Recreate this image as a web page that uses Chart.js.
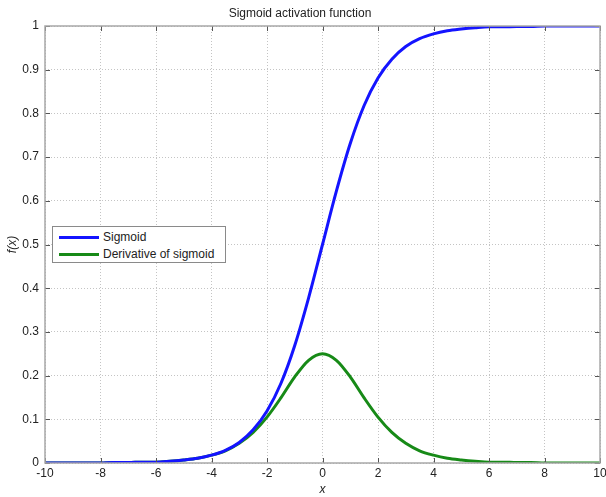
<!DOCTYPE html>
<html>
<head>
<meta charset="utf-8">
<script src="https://cdn.jsdelivr.net/npm/chart.js@4.4.0/dist/chart.umd.min.js"></script>
<style>
  body { margin: 0; background: #fff; }
  #wrap { position: relative; width: 606px; height: 497px; }
  #legend {
    position: absolute; left: 52px; top: 226px; width: 172px; height: 35px;
    border: 1px solid #8a8a8a; background: #fff;
    font: 12px "Liberation Sans", Arial, sans-serif; color: #222;
  }
  .row { position: absolute; left: 6px; height: 14px; line-height: 14px; }
  .row span.ln { position: absolute; left: 0; top: 6px; width: 40px; height: 3px; }
  .row span.tx { position: absolute; left: 44px; top: 0; white-space: nowrap; }
</style>
</head>
<body>
<div id="wrap">
  <canvas id="chart" width="606" height="497"></canvas>
  <div id="legend">
    <div class="row" style="top:3px"><span class="ln" style="background:#1414ff"></span><span class="tx">Sigmoid</span></div>
    <div class="row" style="top:20px"><span class="ln" style="background:#178a17"></span><span class="tx">Derivative of sigmoid</span></div>
  </div>
</div>
<script>
const xValues = [-10, -9.5, -9, -8.5, -8, -7.5, -7, -6.5, -6, -5.5, -5, -4.5, -4, -3.5, -3, -2.5, -2, -1.5, -1, -0.5,
  0, 0.5, 1, 1.5, 2, 2.5, 3, 3.5, 4, 4.5, 5, 5.5, 6, 6.5, 7, 7.5, 8, 8.5, 9, 9.5, 10];

const sigmoidValues = [0.000, 0.000, 0.000, 0.000, 0.000, 0.001, 0.001, 0.002, 0.002, 0.004, 0.007, 0.011, 0.018, 0.029,
  0.047, 0.076, 0.119, 0.182, 0.269, 0.378, 0.500, 0.622, 0.731, 0.818, 0.881, 0.924, 0.953, 0.971, 0.982, 0.989,
  0.993, 0.996, 0.998, 0.998, 0.999, 0.999, 1.000, 1.000, 1.000, 1.000, 1.000];

const derivativeValues = [0.000, 0.000, 0.000, 0.000, 0.000, 0.001, 0.001, 0.002, 0.002, 0.004, 0.007, 0.011, 0.018, 0.028,
  0.045, 0.070, 0.105, 0.149, 0.197, 0.235, 0.250, 0.235, 0.197, 0.149, 0.105, 0.070, 0.045, 0.028, 0.018, 0.011,
  0.007, 0.004, 0.002, 0.002, 0.001, 0.001, 0.000, 0.000, 0.000, 0.000, 0.000];

const xTicks = [-10, -8, -6, -4, -2, 0, 2, 4, 6, 8, 10];
const yTicks = [0, 0.1, 0.2, 0.3, 0.4, 0.5, 0.6, 0.7, 0.8, 0.9, 1];

const font = { family: '"Liberation Sans", Arial, sans-serif', size: 12 };

// box round the plot and the short inner tick marks, like matlab axes
const axesBox = {
  id: 'axesBox',
  afterDatasetsDraw(chart) {
    const { ctx, chartArea: a, scales } = chart;
    ctx.save();
    ctx.strokeStyle = '#555';
    ctx.lineWidth = 1;
    ctx.beginPath();
    xTicks.forEach(v => {
      const px = Math.round(scales.x.getPixelForValue(v)) + 0.5;
      ctx.moveTo(px, a.bottom); ctx.lineTo(px, a.bottom - 5);
      ctx.moveTo(px, a.top); ctx.lineTo(px, a.top + 5);
    });
    yTicks.forEach(v => {
      const py = Math.round(scales.y.getPixelForValue(v)) + 0.5;
      ctx.moveTo(a.left, py); ctx.lineTo(a.left + 5, py);
      ctx.moveTo(a.right, py); ctx.lineTo(a.right - 5, py);
    });
    ctx.stroke();
    ctx.strokeStyle = '#a8a8a8';
    ctx.lineWidth = 1.5;
    ctx.strokeRect(a.left, a.top, a.right - a.left, a.bottom - a.top);
    ctx.restore();
  }
};

const ctx = document.getElementById('chart').getContext('2d');
new Chart(ctx, {
  type: 'line',
  data: {
    datasets: [{
      label: 'Sigmoid',
      data: xValues.map((x, i) => ({ x, y: sigmoidValues[i] })),
      borderColor: '#1414ff',
      borderWidth: 3,
      pointRadius: 0,
      cubicInterpolationMode: 'monotone'
    }, {
      label: 'Derivative of sigmoid',
      data: xValues.map((x, i) => ({ x, y: derivativeValues[i] })),
      borderColor: '#178a17',
      borderWidth: 3,
      pointRadius: 0,
      cubicInterpolationMode: 'monotone'
    }]
  },
  options: {
    responsive: false,
    animation: false,
    layout: { padding: { left: 0, right: 6, top: 0, bottom: 0 } },
    plugins: {
      legend: { display: false },
      tooltip: { enabled: false },
      title: {
        display: true,
        text: 'Sigmoid activation function',
        color: '#222',
        font: { family: font.family, size: 12, weight: 'normal' },
        padding: { top: 6, bottom: 5.6 }
      }
    },
    scales: {
      x: {
        type: 'linear',
        min: -10, max: 10,
        afterBuildTicks: s => { s.ticks = xTicks.map(v => ({ value: v })); },
        afterFit: s => { s.height = 34; s.paddingLeft = 0; s.paddingRight = 0; },
        ticks: { color: '#222', font, padding: 3, maxRotation: 0, autoSkip: false, callback: v => String(v) },
        grid: { color: '#c4c4c4', drawTicks: false },
        border: { display: false, dash: [1, 2] },
        title: { display: true, text: 'x', color: '#222', font: { family: font.family, size: 12, style: 'italic' }, padding: 0 }
      },
      y: {
        min: 0, max: 1,
        afterBuildTicks: s => { s.ticks = yTicks.map(v => ({ value: v })); },
        afterFit: s => { s.width = 45; s.paddingTop = 0; s.paddingBottom = 0; },
        ticks: { color: '#222', font, padding: 6, callback: v => String(v) },
        grid: { color: '#c4c4c4', drawTicks: false },
        border: { display: false, dash: [1, 2] },
        title: { display: true, text: 'f(x)', color: '#222', font: { family: font.family, size: 12, style: 'italic' }, padding: { top: 5, bottom: 0 } }
      }
    }
  },
  plugins: [axesBox]
});
</script>
</body>
</html>
